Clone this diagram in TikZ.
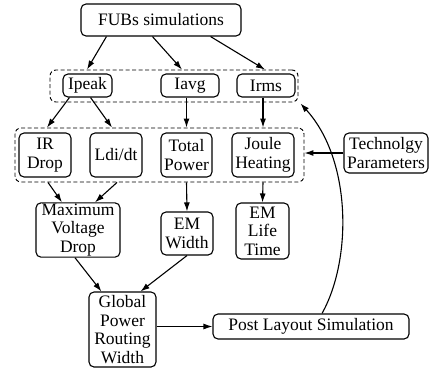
\documentclass[tikz,border=0pt]{standalone}
\usepackage{fontspec}
\setmainfont{Liberation Serif}
\usepackage{tikz}
\usetikzlibrary{arrows.meta}

\tikzset{
    caja/.style={draw, line width=1.1pt, rounded corners=5pt, align=center,
        inner sep=1pt, font=\fontsize{17.5}{18.5}\selectfont},
    grupo/.style={draw, line width=0.9pt, dash pattern=on 4pt off 2.5pt,
        rounded corners=6pt, inner sep=0pt},
    flecha/.style={line width=1.1pt, -{Latex[length=9pt,width=6pt]}}
}

\begin{document}
\begin{tikzpicture}[x=1pt,y=-1pt]
    \useasboundingbox (0,0) rectangle (430,370);

    % Simulaciones de entrada
    \node[caja, minimum width=160pt, minimum height=32pt] (fubs) at (161,20) {FUBs simulations};

    % Corrientes
    \node[grupo, minimum width=248pt, minimum height=32pt] (g1) at (174,86) {};
    \node[caja, minimum width=49pt, minimum height=23pt] (ipeak) at (87.5,85.5) {Ipeak};
    \node[caja, minimum width=58pt, minimum height=23pt] (iavg) at (190,85.5) {Iavg};
    \node[caja, minimum width=58pt, minimum height=23pt] (irms) at (266,85.5) {Irms};

    % Efectos
    \node[grupo, minimum width=289pt, minimum height=54pt] (g2) at (159.5,155) {};
    \node[caja, minimum width=52pt, minimum height=44pt] (irdrop) at (45,155) {IR\\Drop};
    \node[caja, minimum width=52pt, minimum height=44pt] (ldidt) at (116,155) {Ldi/dt};
    \node[caja, minimum width=51pt, minimum height=44pt] (totpow) at (186.5,155) {Total\\Power};
    \node[caja, minimum width=62pt, minimum height=44pt] (joule) at (263,155) {Joule\\Heating};
    \node[caja, minimum width=84pt, minimum height=40pt] (tech) at (386,153) {Technolgy\\Parameters};

    % Resultados
    \node[caja, minimum width=84pt, minimum height=54pt] (mvd) at (78,230) {Maximum\\Voltage\\Drop};
    \node[caja, minimum width=52pt, minimum height=43pt] (emw) at (187,233.5) {EM\\Width};
    \node[caja, minimum width=53pt, minimum height=56pt] (emlt) at (262.5,231) {EM\\Life\\Time};
    \node[caja, minimum width=67pt, minimum height=75pt] (global) at (122.5,329.5) {Global\\Power\\Routing\\Width};
    \node[caja, minimum width=196pt, minimum height=25pt] (post) at (311,326.5) {Post Layout Simulation};

    % Flechas
    \draw[flecha] ([xshift=26pt]fubs.south west) -- ([xshift=-0.5pt]ipeak.north |- g1.north);
    \draw[flecha] ([xshift=72pt]fubs.south west) -- ([xshift=-8pt]iavg.north |- g1.north);
    \draw[flecha] ([xshift=-31pt]fubs.south east) -- ([xshift=-1pt]irms.north |- g1.north);

    \draw[flecha] ([xshift=7pt]ipeak.south west) -- ([xshift=2pt]irdrop.north |- g2.north);
    \draw[flecha] ([xshift=-22pt]ipeak.south east) -- ([xshift=-4pt]ldidt.north |- g2.north);
    \draw[flecha] (iavg.south -| totpow.north) -- (totpow.north |- g2.north);
    \draw[flecha] (irms.south -| joule.north) -- (joule.north |- g2.north);
    \draw[flecha] (tech.west) -- (tech.west -| g2.east);

    \draw[flecha] ([xshift=3pt]irdrop.south |- g2.south) -- ([xshift=-16pt]mvd.north);
    \draw[flecha] ([xshift=1pt]ldidt.south |- g2.south) -- ([xshift=17pt]mvd.north);
    \draw[flecha] (totpow.south |- g2.south) -- (emw.north);
    \draw[flecha] (joule.south |- g2.south) -- (emlt.north);

    \draw[flecha] ([xshift=-3pt]mvd.south) -- ([xshift=13pt]global.north west);
    \draw[flecha] (emw.south) -- ([xshift=-16pt]global.north east);
    \draw[flecha] (global.east |- post.west) -- (post.west);

    % Realimentacion
    \draw[flecha] ([xshift=11pt]post.north) .. controls (352,260) and (352,160) .. ([xshift=2pt,yshift=-1pt]g1.south east);
\end{tikzpicture}
\end{document}
